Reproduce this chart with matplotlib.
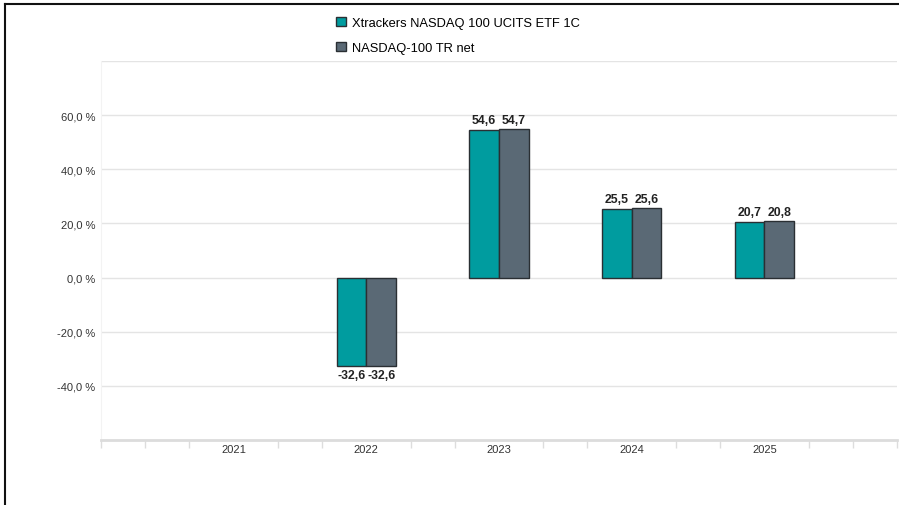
import matplotlib
matplotlib.use("Agg")
import matplotlib.pyplot as plt
import numpy as np
from matplotlib.lines import Line2D

plt.rcParams['font.family'] = ['Liberation Sans', 'DejaVu Sans']

years = [2021, 2022, 2023, 2024, 2025]
etf = [None, -32.6, 54.6, 25.5, 20.7]
index = [None, -32.6, 54.7, 25.6, 20.8]
series_names = ["Xtrackers NASDAQ 100 UCITS ETF 1C", "NASDAQ-100 TR net"]
yticks = [-40, -20, 0, 20, 40, 60]

teal = "#009c9f"
slate = "#5a6975"
edge = "#2a2f33"

fig = plt.figure(figsize=(8.99, 5.06), dpi=100)
ax = fig.add_axes([101/899, 1 - 441/506, (897-101)/899, (441-62)/506])

w = 0.223
for vals, off, col in [(etf, -w/2, teal), (index, w/2, slate)]:
    xs = [y + off for y, v in zip(years, vals) if v is not None]
    vs = [v for v in vals if v is not None]
    ax.bar(xs, vs, width=w, color=col, edgecolor=edge, linewidth=1.0, zorder=3)
    for x, v in zip(xs, vs):
        lab = f"{v:.1f}".replace(".", ",")
        if v >= 0:
            ax.text(x, v + 1.3, lab, ha="center", va="bottom", fontsize=8.8, fontweight="bold", color="#222222")
        else:
            ax.text(x, v - 1.3, lab, ha="center", va="top", fontsize=8.8, fontweight="bold", color="#222222")

ax.set_xlim(2020, 2026)
ax.set_ylim(-60, 80)
ax.set_yticks(yticks)
ax.set_yticklabels([f"{t:.1f} %".replace(".", ",") for t in yticks], fontsize=8, color="#333333")
for t in yticks + [80]:
    ax.axhline(t, color="#e4e4e4", linewidth=1.0, zorder=1)

ax.set_xticks(years)
ax.set_xticklabels([str(y) for y in years], fontsize=8, color="#333333")
minor = [m for m in np.arange(2020, 2026.01, 1/3) if min(abs(m - y) for y in years) > 0.05]
ax.set_xticks(minor, minor=True)
ax.tick_params(axis="x", which="minor", length=6, color="#dddddd", width=1)
ax.tick_params(axis="x", which="major", length=0, pad=3)
ax.tick_params(axis="y", length=0, pad=4)

for s in ["top", "right"]:
    ax.spines[s].set_visible(False)
ax.spines["left"].set_color("#f3f3f3")
ax.spines["bottom"].set_color("#dcdcdc")
ax.spines["bottom"].set_linewidth(2)

handles = [plt.Rectangle((0, 0), 1, 1, facecolor=teal, edgecolor=edge, linewidth=1),
           plt.Rectangle((0, 0), 1, 1, facecolor=slate, edgecolor=edge, linewidth=1)]
fig.legend(handles, series_names, loc="upper left", bbox_to_anchor=(336/899, 1 - 18/506),
           frameon=False, fontsize=9.3, handlelength=0.75, handleheight=0.75,
           handletextpad=0.45, labelspacing=0.95, borderaxespad=0, borderpad=0)

# figure border (top and left)
fig.add_artist(Line2D([5/899, 1], [1 - 4.5/506, 1 - 4.5/506], transform=fig.transFigure, color="#111111", linewidth=1.5))
fig.add_artist(Line2D([5/899, 5/899], [0, 1 - 4.5/506], transform=fig.transFigure, color="#111111", linewidth=1.5))

fig.savefig("out.png", dpi=100)
